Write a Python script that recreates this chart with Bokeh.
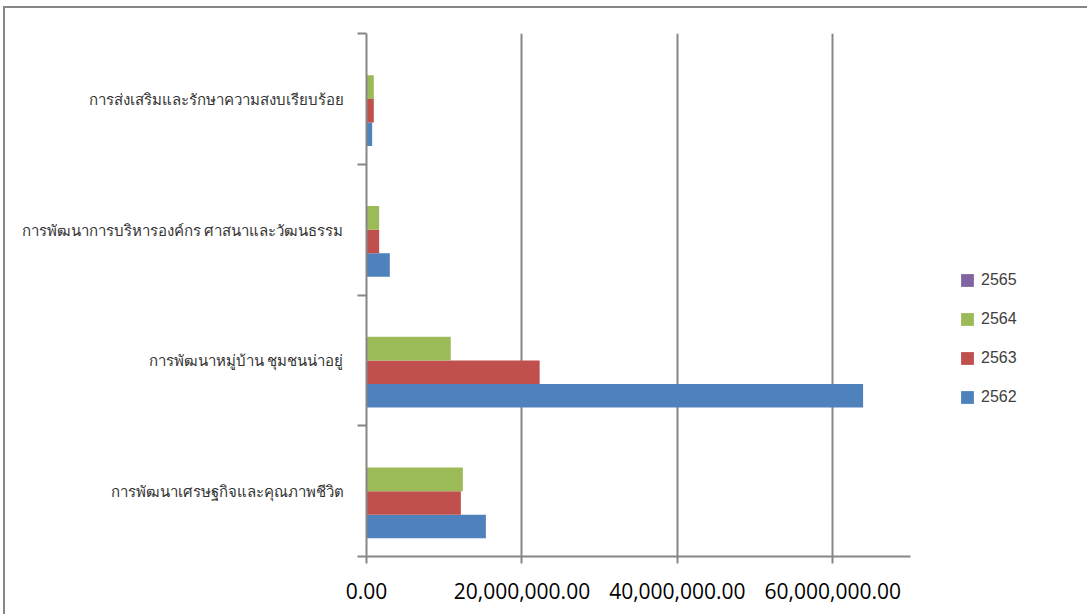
from bokeh.plotting import figure
from bokeh.models import (Range1d, FixedTicker, NumeralTickFormatter, Legend,
                          LegendItem, ColumnDataSource)
from bokeh.transform import dodge
from bokeh.embed import file_html
from bokeh.resources import INLINE

# categories listed bottom -> top (as drawn)
categories = [
    "การพัฒนาเศรษฐกิจและคุณภาพชีวิต",
    "การพัฒนาหมู่บ้าน ชุมชนน่าอยู่",
    "การพัฒนาการบริหารองค์กร ศาสนาและวัฒนธรรม",
    "การส่งเสริมและรักษาความสงบเรียบร้อย",
]
years = ["2562", "2563", "2564", "2565"]
v2562 = [15360000, 63900000, 3000000, 730000]
v2563 = [12140000, 22280000, 1630000, 940000]
v2564 = [12400000, 10840000, 1630000, 940000]
v2565 = [0, 0, 0, 0]
colors = ["#4F81BD", "#C0504D", "#9BBB59", "#8064A2"]
x_ticks = [0, 20000000, 40000000, 60000000]
x_axis_max = 70000000

series = [v2562, v2563, v2564, v2565]
pos = [i + 0.5 for i in range(len(categories))]
data = {"y": pos}
for yr, vals in zip(years, series):
    data["v" + yr] = vals
src = ColumnDataSource(data)

# layout (pixels)
W, H = 1084, 608
left, top, right, bottom = 361, 25, 4, 60
axis_px = 544                      # pixel length of the drawn value axis
frame_w = W - left - right
x_end = x_axis_max * frame_w / axis_px

p = figure(width=W, height=H, output_backend="svg", toolbar_location=None,
           x_range=Range1d(0, x_end), y_range=Range1d(0, len(categories)),
           min_border_left=left, min_border_top=top, min_border_right=right,
           min_border_bottom=bottom)
p.styles = {"margin-left": "3px", "margin-top": "6px",
            "border-top": "2px solid #868686", "border-left": "2px solid #868686"}
p.outline_line_color = None
p.background_fill_color = "white"
p.border_fill_color = "white"

bar_h = 0.18
items = []
for k, (yr, col) in enumerate(zip(years, colors)):
    r = p.hbar(y=dodge("y", (k - 1.5) * bar_h, range=p.y_range), right="v" + yr, left=0,
               height=bar_h, source=src, fill_color=col, line_color=None)
    items.append(LegendItem(label=yr, renderers=[r]))

# x axis
xa = p.xaxis[0]
xa.bounds = (0, x_axis_max)
xa.ticker = FixedTicker(ticks=x_ticks)
xa.formatter = NumeralTickFormatter(format="0,0.00")
xa.axis_line_color = "#868686"
xa.axis_line_width = 2
xa.major_tick_line_color = "#868686"
xa.major_tick_line_width = 2
xa.major_tick_in = 0
xa.major_tick_out = 7
xa.minor_tick_line_color = None
xa.major_label_standoff = 19
xa.major_label_text_font = "Open Sans"
xa.major_label_text_font_size = "21px"
xa.major_label_text_color = "#000000"

# y axis: labels at centers, ticks at boundaries
ya = p.yaxis[0]
ya.ticker = FixedTicker(ticks=pos, minor_ticks=list(range(len(categories) + 1)))
ya.major_label_overrides = {pp: c for pp, c in zip(pos, categories)}
ya.axis_line_color = "#868686"
ya.axis_line_width = 2
ya.major_tick_line_color = None
ya.major_tick_in = 0
ya.major_tick_out = 0
ya.minor_tick_line_color = "#868686"
ya.minor_tick_line_width = 2
ya.minor_tick_in = 0
ya.minor_tick_out = 9
ya.major_label_standoff = 14
ya.major_label_text_font = "Noto Sans"
ya.major_label_text_font_size = "15px"
ya.major_label_text_color = "#333333"

p.xgrid.ticker = FixedTicker(ticks=x_ticks[1:])
p.xgrid.grid_line_color = "#868686"
p.xgrid.grid_line_width = 2
p.ygrid.grid_line_color = None

legend = Legend(items=list(reversed(items)), location=(593, 150),
                glyph_width=16, glyph_height=16, label_standoff=6, spacing=21,
                padding=0, margin=0, border_line_color=None,
                background_fill_alpha=0,
                label_text_font="Liberation Sans", label_text_font_size="16px",
                label_text_color="#404040")
p.add_layout(legend)

open("out.html", "w").write(file_html(p, INLINE))
